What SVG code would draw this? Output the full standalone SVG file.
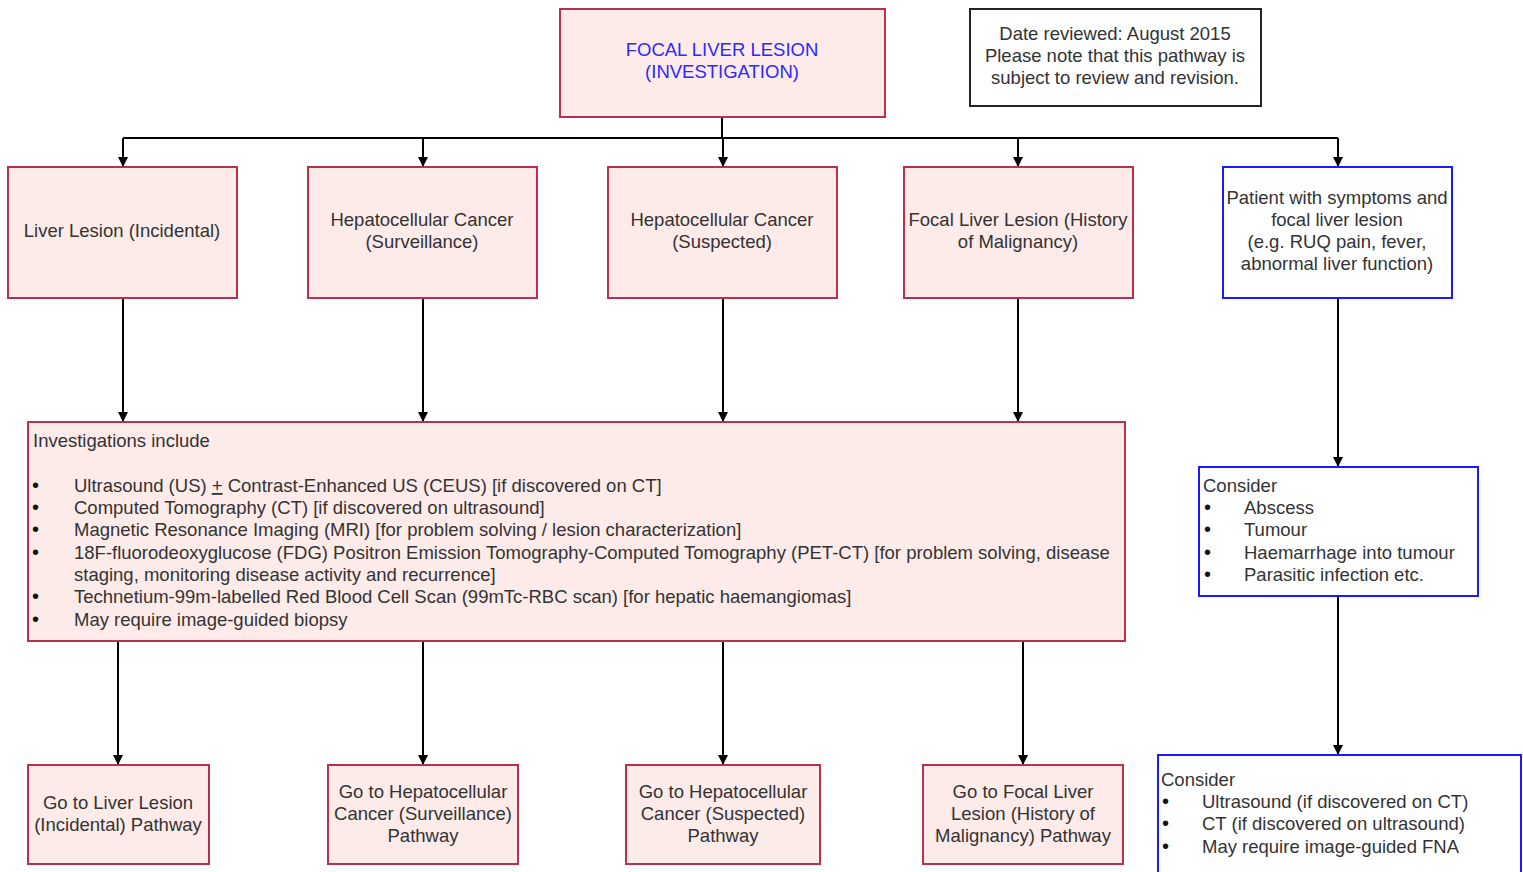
<svg xmlns="http://www.w3.org/2000/svg" width="1523" height="872" viewBox="0 0 1523 872">
<style>
.pk{fill:#fdebe9;stroke:#b8324f;stroke-width:2}
.bl{fill:#ffffff;stroke:#1a1aff;stroke-width:2}
.bk{fill:#ffffff;stroke:#222;stroke-width:2}
text{font-family:"Liberation Sans",Arial,sans-serif;font-size:18.5px;fill:#333}
.c{text-anchor:middle}
.ttl{fill:#2a2aff}
.b{font-size:20px;fill:#111}
.cn line,.cn path{stroke:#000;stroke-width:2;fill:none}
</style>
<defs>
<marker id="ah" markerWidth="10" markerHeight="10" refX="9" refY="5" orient="auto" markerUnits="userSpaceOnUse">
<path d="M0,0 L10,5 L0,10 Z" fill="#000"/>
</marker>
</defs>
<rect width="1523" height="872" fill="#fff"/>
<g class="cn">
<line x1="722" y1="117" x2="722" y2="138"/>
<line x1="123" y1="138" x2="1338" y2="138"/>
<line x1="123" y1="138" x2="123" y2="166" marker-end="url(#ah)"/>
<line x1="423" y1="138" x2="423" y2="166" marker-end="url(#ah)"/>
<line x1="723" y1="138" x2="723" y2="166" marker-end="url(#ah)"/>
<line x1="1018" y1="138" x2="1018" y2="166" marker-end="url(#ah)"/>
<line x1="1338" y1="138" x2="1338" y2="166" marker-end="url(#ah)"/>
<line x1="123" y1="298" x2="123" y2="421" marker-end="url(#ah)"/>
<line x1="423" y1="298" x2="423" y2="421" marker-end="url(#ah)"/>
<line x1="723" y1="298" x2="723" y2="421" marker-end="url(#ah)"/>
<line x1="1018" y1="298" x2="1018" y2="421" marker-end="url(#ah)"/>
<line x1="1338" y1="298" x2="1338" y2="466" marker-end="url(#ah)"/>
<line x1="1338" y1="596" x2="1338" y2="754" marker-end="url(#ah)"/>
<line x1="118" y1="641" x2="118" y2="764" marker-end="url(#ah)"/>
<line x1="423" y1="641" x2="423" y2="764" marker-end="url(#ah)"/>
<line x1="723" y1="641" x2="723" y2="764" marker-end="url(#ah)"/>
<line x1="1023" y1="641" x2="1023" y2="764" marker-end="url(#ah)"/>
</g>
<g id="start">
<rect class="pk" x="560" y="9" width="325" height="108"/>
<text class="c ttl" x="722" y="56">FOCAL LIVER LESION</text>
<text class="c ttl" x="722" y="78">(INVESTIGATION)</text>
</g>
<g id="note">
<rect class="bk" x="970" y="9" width="291" height="97"/>
<text class="c" x="1115" y="40">Date reviewed: August 2015</text>
<text class="c" x="1115" y="62">Please note that this pathway is</text>
<text class="c" x="1115" y="84">subject to review and revision.</text>
</g>
<g id="incidental">
<rect class="pk" x="8" y="167" width="229" height="131"/>
<text class="c" x="122" y="237">Liver Lesion (Incidental)</text>
</g>
<g id="surveillance">
<rect class="pk" x="308" y="167" width="229" height="131"/>
<text class="c" x="422" y="226">Hepatocellular Cancer</text>
<text class="c" x="422" y="248">(Surveillance)</text>
</g>
<g id="suspected">
<rect class="pk" x="608" y="167" width="229" height="131"/>
<text class="c" x="722" y="226">Hepatocellular Cancer</text>
<text class="c" x="722" y="248">(Suspected)</text>
</g>
<g id="history">
<rect class="pk" x="904" y="167" width="229" height="131"/>
<text class="c" x="1018" y="226">Focal Liver Lesion (History</text>
<text class="c" x="1018" y="248">of Malignancy)</text>
</g>
<g id="symptoms">
<rect class="bl" x="1223" y="167" width="229" height="131"/>
<text class="c" x="1337" y="204">Patient with symptoms and</text>
<text class="c" x="1337" y="226">focal liver lesion</text>
<text class="c" x="1337" y="248">(e.g. RUQ pain, fever,</text>
<text class="c" x="1337" y="270">abnormal liver function)</text>
</g>
<g id="investigations">
<rect class="pk" x="28" y="422" width="1097" height="219"/>
<text x="33" y="447">Investigations include</text>
<text class="b" x="32" y="492">•</text><text x="74" y="492">Ultrasound (US) <tspan text-decoration="underline">+</tspan> Contrast-Enhanced US (CEUS) [if discovered on CT]</text>
<text class="b" x="32" y="514">•</text><text x="74" y="514">Computed Tomography (CT) [if discovered on ultrasound]</text>
<text class="b" x="32" y="536">•</text><text x="74" y="536">Magnetic Resonance Imaging (MRI) [for problem solving / lesion characterization]</text>
<text class="b" x="32" y="559">•</text><text x="74" y="559">18F-fluorodeoxyglucose (FDG) Positron Emission Tomography-Computed Tomography (PET-CT) [for problem solving, disease</text>
<text x="74" y="581">staging, monitoring disease activity and recurrence]</text>
<text class="b" x="32" y="603">•</text><text x="74" y="603">Technetium-99m-labelled Red Blood Cell Scan (99mTc-RBC scan) [for hepatic haemangiomas]</text>
<text class="b" x="32" y="626">•</text><text x="74" y="626">May require image-guided biopsy</text>
</g>
<g id="consider1">
<rect class="bl" x="1199" y="467" width="279" height="129"/>
<text x="1203" y="492">Consider</text>
<text class="b" x="1204" y="514">•</text><text x="1244" y="514">Abscess</text>
<text class="b" x="1204" y="536">•</text><text x="1244" y="536">Tumour</text>
<text class="b" x="1204" y="559">•</text><text x="1244" y="559">Haemarrhage into tumour</text>
<text class="b" x="1204" y="581">•</text><text x="1244" y="581">Parasitic infection etc.</text>
</g>
<g id="consider2">
<rect class="bl" x="1158" y="755" width="363" height="130"/>
<text x="1161" y="786">Consider</text>
<text class="b" x="1162" y="808">•</text><text x="1202" y="808">Ultrasound (if discovered on CT)</text>
<text class="b" x="1162" y="830">•</text><text x="1202" y="830">CT (if discovered on ultrasound)</text>
<text class="b" x="1162" y="853">•</text><text x="1202" y="853">May require image-guided FNA</text>
</g>
<g id="goto-incidental">
<rect class="pk" x="28" y="765" width="181" height="99"/>
<text class="c" x="118" y="809">Go to Liver Lesion</text>
<text class="c" x="118" y="831">(Incidental) Pathway</text>
</g>
<g id="goto-surveillance">
<rect class="pk" x="328" y="765" width="190" height="99"/>
<text class="c" x="423" y="798">Go to Hepatocellular</text>
<text class="c" x="423" y="820">Cancer (Surveillance)</text>
<text class="c" x="423" y="842">Pathway</text>
</g>
<g id="goto-suspected">
<rect class="pk" x="626" y="765" width="194" height="99"/>
<text class="c" x="723" y="798">Go to Hepatocellular</text>
<text class="c" x="723" y="820">Cancer (Suspected)</text>
<text class="c" x="723" y="842">Pathway</text>
</g>
<g id="goto-history">
<rect class="pk" x="923" y="765" width="200" height="99"/>
<text class="c" x="1023" y="798">Go to Focal Liver</text>
<text class="c" x="1023" y="820">Lesion (History of</text>
<text class="c" x="1023" y="842">Malignancy) Pathway</text>
</g>
</svg>
